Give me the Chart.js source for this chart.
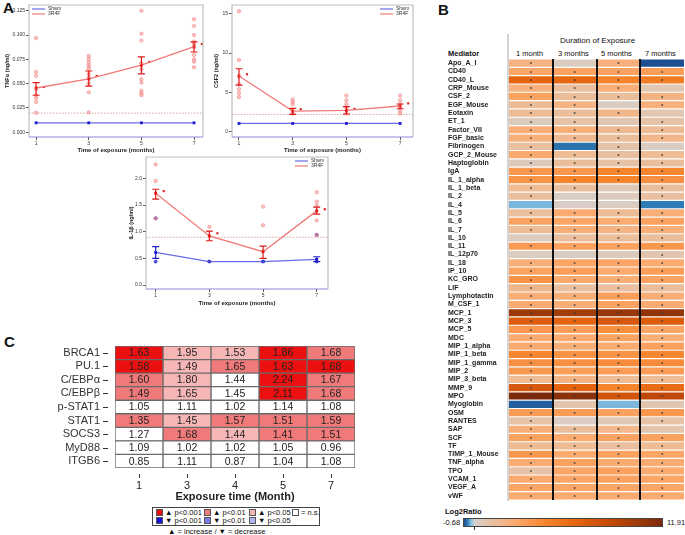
<!DOCTYPE html>
<html>
<head>
<meta charset="utf-8">
<script src="https://cdn.jsdelivr.net/npm/chart.js@4.4.0/dist/chart.umd.min.js"></script>
<style>
body { margin: 0; background: #fff; font-family: "Liberation Sans", Arial, sans-serif; }
#page { position: relative; width: 685px; height: 535px; overflow: hidden; }
.box { position: absolute; }
.big { position: absolute; font-weight: bold; font-size: 15px; color: #111; }
.t { position: absolute; white-space: nowrap; color: #111; }
.sq { position: absolute; width: 7px; height: 7px; border: 1px solid #555; box-sizing: border-box; }
</style>
</head>
<body>
<div id="page">
  <div class="big" style="left:3px;top:-1px">A</div>
  <div class="big" style="left:438px;top:1px">B</div>
  <div class="big" style="left:4px;top:333px">C</div>

  <div class="box" style="left:0;top:0;width:210px;height:158px"><canvas id="tnf"></canvas></div>
  <div class="box" style="left:210px;top:0;width:210px;height:158px"><canvas id="csf"></canvas></div>
  <div class="box" style="left:120px;top:150px;width:215px;height:160px"><canvas id="il1"></canvas></div>

  <!-- panel B header -->
  <div class="box" style="left:507px;top:34px;width:2px;height:467px;background:#d4d4d4"></div>
  <div class="t" style="left:560px;top:36px;font-size:8px">Duration of Exposure</div>
  <div class="t" style="left:448px;top:49px;font-size:7.5px;font-weight:bold">Mediator</div>
  <div class="t" style="left:516px;top:49px;font-size:7.5px">1 month</div>
  <div class="t" style="left:558px;top:49px;font-size:7.5px">3 months</div>
  <div class="t" style="left:601px;top:49px;font-size:7.5px">5 months</div>
  <div class="t" style="left:645px;top:49px;font-size:7.5px">7 months</div>
  <div class="box" style="left:448px;top:59px;width:237px;height:441px"><canvas id="heat"></canvas></div>

  <div class="t" style="left:445px;top:507px;font-size:7.5px;font-weight:bold">Log2Ratio</div>
  <div class="t" style="left:443px;top:518px;font-size:7.5px">-0.68</div>
  <div id="cbar" class="box" style="left:463px;top:518px;width:200px;height:9px;border:1px solid #444;box-sizing:border-box"></div>
  <div id="czero" class="box" style="top:527px;width:1px;height:3px;background:#333"></div>
  <div class="t" style="left:667px;top:518px;font-size:7.5px">11.91</div>

  <!-- panel C -->
  <div class="box" style="left:55px;top:340px;width:305px;height:165px"><canvas id="genes"></canvas></div>
  <div class="box" style="left:152px;top:507px;width:168px;height:19px;border:1px solid #444;box-sizing:border-box"></div>
  <div class="sq" style="left:156px;top:509px;background:#ec1010"></div>
  <div class="t" style="left:165px;top:508px;font-size:7.5px">▲ p&lt;0.001</div>
  <div class="sq" style="left:204px;top:509px;background:#f07a7a"></div>
  <div class="t" style="left:213px;top:508px;font-size:7.5px">▲ p&lt;0.01</div>
  <div class="sq" style="left:249px;top:509px;background:#f7b6b6"></div>
  <div class="t" style="left:258px;top:508px;font-size:7.5px">▲ p&lt;0.05</div>
  <div class="sq" style="left:292px;top:509px;background:#fff"></div>
  <div class="t" style="left:301px;top:508px;font-size:7.5px">= n.s.</div>
  <div class="sq" style="left:156px;top:517px;background:#1010e0"></div>
  <div class="t" style="left:165px;top:516px;font-size:7.5px">▼ p&lt;0.001</div>
  <div class="sq" style="left:204px;top:517px;background:#7a7ae8"></div>
  <div class="t" style="left:213px;top:516px;font-size:7.5px">▼ p&lt;0.01</div>
  <div class="sq" style="left:249px;top:517px;background:#b6b6f4"></div>
  <div class="t" style="left:258px;top:516px;font-size:7.5px">▼ p&lt;0.05</div>
  <div class="t" style="left:168px;top:527px;font-size:7.5px">▲ = increase / ▼ = decrease</div>
</div>

<script>
const FONT = "'Liberation Sans', Arial, sans-serif";

// ---- panel A ----
const months = [1, 3, 5, 7];

const tnfTicks = [0, 0.025, 0.05, 0.075, 0.1, 0.125];
const tnfMean = [0.0455, 0.0548, 0.069, 0.088];
const tnfLo = [0.038, 0.0475, 0.060, 0.0826];
const tnfHi = [0.051, 0.063, 0.0775, 0.093];
const tnfStar = [0.0465, 0.0579, 0.0723, 0.0909];
const tnfSham = [0.0096, 0.0096, 0.0096, 0.0096];
const tnfPts = [
  [0.097, 0.062, 0.058, 0.044, 0.038, 0.035, 0.031, 0.020],
  [0.0785, 0.0754, 0.0723, 0.0695, 0.0675, 0.0648, 0.060, 0.0565, 0.0503, 0.041, 0.0204],
  [0.125, 0.1015, 0.0943, 0.071, 0.0648, 0.0545, 0.051, 0.0427, 0.040, 0.038],
  [0.1164, 0.1095, 0.100, 0.0933, 0.091, 0.0875, 0.0795, 0.075, 0.0726, 0.0668]
];
const tnfCut = 0.0196;

const csfTicks = [0, 5, 10, 15];
const csfMean = [7.08, 2.63, 2.7, 3.27];
const csfLo = [5.93, 2.2, 2.25, 2.92];
const csfHi = [8.0, 2.97, 3.18, 3.52];
const csfStar = [7.3, 2.85, 2.9, 3.6];
const csfSham = [1.05, 1.05, 1.05, 1.05];
const csfPts = [
  [15.3, 9.1, 7.0, 6.0, 5.4, 4.9, 4.4],
  [4.1, 3.8, 3.5, 2.5, 2.3],
  [4.6, 4.0, 3.5, 3.0, 2.3],
  [4.6, 4.0, 3.5, 3.1, 2.65, 2.3]
];
const csfCut = 2.2;

const ilTicks = [0, 0.5, 1.0, 1.5, 2.0];
const ilMean = [1.72, 0.92, 0.625, 1.39];
const ilLo = [1.61, 0.83, 0.5, 1.33];
const ilHi = [1.795, 1.01, 0.73, 1.46];
const ilStar = [1.76, 0.97, null, 1.42];
const ilSham = [0.61, 0.44, 0.44, 0.48];
const ilShamLo = [0.5, 0.44, 0.44, 0.44];
const ilShamHi = [0.72, 0.44, 0.44, 0.53];
const ilPts = [[2.26, 1.95, 1.25], [1.09], [1.47, 1.12], [1.74, 1.56, 1.49, 1.21, 0.94]];
const ilShamPts = [[1.25, 0.44], [0.44], [0.44], [0.94, 0.44]];
const ilCut = 0.895;

// ---- panel B ----
const mediators = ['Apo_A_I','CD40','CD40_L','CRP_Mouse','CSF_2','EGF_Mouse','Eotaxin','ET_1','Factor_VII',
  'FGF_basic','Fibrinogen','GCP_2_Mouse','Haptoglobin','IgA','IL_1_alpha','IL_1_beta','IL_2','IL_4','IL_5',
  'IL_6','IL_7','IL_10','IL_11','IL_12p70','IL_18','IP_10','KC_GRO','LIF','Lymphotactin','M_CSF_1','MCP_1',
  'MCP_3','MCP_5','MDC','MIP_1_alpha','MIP_1_beta','MIP_1_gamma','MIP_2','MIP_3_beta','MMP_9','MPO',
  'Myoglobin','OSM','RANTES','SAP','SCF','TF','TIMP_1_Mouse','TNF_alpha','TPO','VCAM_1','VEGF_A','vWF'];
const durations = ['1 month', '3 months', '5 months', '7 months'];
const ratio1 = [2.0,2.8,6.5,2.2,3.0,1.4,1.5,0.4,2.4,2.2,1.2,2.6,0.4,3.5,3.8,1.5,1.3,-0.25,1.3,3.0,1.5,0.4,3.4,0.3,2.3,3.0,3.8,1.8,2.3,2.5,10.5,7.0,3.5,2.5,2.5,4.5,4.0,3.5,1.5,7.5,11.91,-0.6,3.3,1.0,2.3,3.0,1.5,3.5,2.5,1.0,2.5,2.8,2.5];
const ratio3 = [0.3,3.0,6.3,1.2,1.4,2.0,1.3,1.0,2.3,1.6,-0.5,1.5,1.3,3.5,4.6,1.2,0.2,0.2,2.5,2.8,2.3,1.2,3.0,0.3,2.8,3.2,2.6,1.2,2.3,2.3,10.2,6.5,3.3,2.5,2.3,3.8,4.0,3.2,2.0,6.5,11.3,0.8,3.3,0.2,1.3,2.5,1.5,2.5,3.0,2.8,2.8,2.8,2.5];
const ratio5 = [2.2,3.0,4.6,2.4,1.3,0.3,1.8,0.7,1.6,1.3,1.0,1.2,1.0,4.6,4.6,0.5,0.4,0.3,1.5,2.5,2.0,1.3,3.0,0.4,2.8,2.5,2.4,1.2,3.2,3.0,10.8,7.5,4.0,3.0,2.5,3.8,4.2,3.3,1.5,4.6,7.8,-0.25,3.0,0.6,1.8,3.0,1.2,3.0,2.5,3.0,3.0,2.8,2.5];
const ratio7 = [-0.68,3.2,5.0,0.6,2.0,2.2,0.7,1.0,1.5,1.8,0.3,1.5,1.3,4.5,4.0,1.3,1.2,-0.45,2.3,3.0,2.3,1.3,3.6,0.8,2.5,3.2,3.0,1.3,2.3,2.5,11.0,7.0,2.8,2.3,3.0,4.5,4.2,3.3,1.5,6.0,8.8,0.7,3.5,1.0,0.8,3.0,1.5,2.8,2.5,2.5,2.8,2.8,2.5];
const star1 = [1,1,1,1,1,1,1,1,1,1,1,1,1,1,1,1,1,0,1,1,1,0,1,0,1,1,1,1,1,1,1,1,1,1,1,1,1,1,1,1,1,0,1,1,1,1,1,1,1,1,1,1,1];
const star3 = [0,1,1,1,1,1,1,1,1,1,0,1,1,1,1,1,0,0,1,1,1,1,1,0,1,1,1,1,1,1,1,1,1,1,1,1,1,1,1,1,1,0,1,0,1,1,1,1,1,1,1,1,1];
const star5 = [1,1,1,1,1,0,1,0,1,1,1,1,1,1,1,0,0,0,1,1,1,1,1,0,1,1,1,1,1,1,1,1,1,1,1,1,1,1,1,1,1,0,1,0,1,1,1,1,1,1,1,1,1];
const star7 = [0,1,1,0,1,1,0,1,1,1,0,1,1,1,1,1,1,0,1,1,1,1,1,1,1,1,1,1,1,1,1,1,1,1,1,1,1,1,1,1,1,0,1,1,0,1,1,1,1,1,1,1,1];
const ratioMin = -0.68, ratioMax = 11.91;
const ratioStops = [
  [-0.68, '#1d4e8f'], [-0.45, '#2f7db8'], [-0.2, '#8ec6e6'], [0, '#d5d0cd'], [0.8, '#e3c5ad'],
  [1.5, '#edbb94'], [2.5, '#fbab70'], [3.5, '#fb9850'], [4.6, '#f5842c'], [6.5, '#e4640f'],
  [8.5, '#c54b08'], [10.5, '#9c3a07'], [11.91, '#7b2a0b']
];

// ---- panel C ----
const genes = ['BRCA1', 'PU.1', 'C/EBPα', 'C/EBPβ', 'p-STAT1', 'STAT1', 'SOCS3', 'MyD88', 'ITGB6'];
const expMonths = ['1', '3', '4', '5', '7'];
const fold1 = [1.63, 1.58, 1.60, 1.49, 1.05, 1.35, 1.27, 1.09, 0.85];
const fold3 = [1.95, 1.49, 1.80, 1.65, 1.11, 1.45, 1.68, 1.02, 1.11];
const fold4 = [1.53, 1.65, 1.44, 1.45, 1.02, 1.57, 1.44, 1.02, 0.87];
const fold5 = [1.86, 1.63, 2.24, 2.11, 1.14, 1.51, 1.41, 1.05, 1.04];
const fold7 = [1.68, 1.68, 1.67, 1.68, 1.08, 1.59, 1.51, 0.96, 1.08];
const sig1 = [3, 3, 2, 2, 0, 2, 0, 0, 0];
const sig3 = [1, 1, 1, 1, 0, 1, 2, 0, 0];
const sig4 = [1, 2, 0, 0, 0, 2, 1, 0, 0];
const sig5 = [3, 3, 3, 3, 0, 2, 2, 0, 0];
const sig7 = [2, 3, 2, 2, 0, 2, 2, 0, 0];
const sigColors = ['#ffffff', '#f7b6b6', '#f07a7a', '#ec1010'];

function hexToRgb(h) {
  return [parseInt(h.slice(1, 3), 16), parseInt(h.slice(3, 5), 16), parseInt(h.slice(5, 7), 16)];
}

function heatColor(v) {
  for (let i = 1; i < ratioStops.length; i++) {
    const [v0, c0] = ratioStops[i - 1];
    const [v1, c1] = ratioStops[i];
    if (v <= v1) {
      const t = Math.max(0, (v - v0) / (v1 - v0));
      const a = hexToRgb(c0), b = hexToRgb(c1);
      const c = a.map((x, k) => Math.round(x + (b[k] - x) * t));
      return `rgb(${c[0]},${c[1]},${c[2]})`;
    }
  }
  return ratioStops[ratioStops.length - 1][1];
}

// ---------- panel A charts ----------
const panelAPlugin = {
  id: 'panelA',
  beforeDatasetsDraw(chart, args, opts) {
    const { ctx, chartArea: a, scales: { y } } = chart;
    const yy = y.getPixelForValue(opts.cut);
    ctx.save();
    ctx.strokeStyle = '#d08c8c';
    ctx.lineWidth = 0.8;
    ctx.setLineDash([1.5, 1.5]);
    ctx.beginPath();
    ctx.moveTo(a.left, yy);
    ctx.lineTo(a.right, yy);
    ctx.stroke();
    ctx.restore();
  },
  afterDatasetsDraw(chart, args, opts) {
    const { ctx, scales: { x, y } } = chart;
    ctx.save();
    opts.errors.forEach(e => {
      ctx.strokeStyle = e.color;
      ctx.lineWidth = 1.2;
      months.forEach((m, i) => {
        const xx = x.getPixelForValue(m);
        const y1 = y.getPixelForValue(e.lo[i]);
        const y2 = y.getPixelForValue(e.hi[i]);
        if (Math.abs(y1 - y2) < 1) return;
        ctx.beginPath();
        ctx.moveTo(xx, y1); ctx.lineTo(xx, y2);
        ctx.moveTo(xx - 3.5, y1); ctx.lineTo(xx + 3.5, y1);
        ctx.moveTo(xx - 3.5, y2); ctx.lineTo(xx + 3.5, y2);
        ctx.stroke();
      });
    });
    ctx.restore();
  },
  afterDraw(chart, args, opts) {
    const { ctx, chartArea: a } = chart;
    ctx.save();
    ctx.lineWidth = 1.2;
    ctx.strokeStyle = '#bdbdbd';
    ctx.beginPath();
    ctx.moveTo(a.left, a.bottom); ctx.lineTo(a.left, a.top);
    ctx.lineTo(a.right, a.top); ctx.lineTo(a.right, a.bottom);
    ctx.stroke();
    ctx.strokeStyle = '#8a8ae0';
    ctx.beginPath();
    ctx.moveTo(a.left, a.bottom); ctx.lineTo(a.right, a.bottom);
    ctx.stroke();
    // legend
    const lx = opts.legendRight ? a.right - 33 : a.left + 3;
    const ly = a.top + 4;
    ctx.font = '5px ' + FONT;
    ctx.textBaseline = 'middle';
    ctx.fillStyle = '#333';
    [['Sham', '#6a6ae6'], ['3R4F', '#f07a7a']].forEach(([name, col], i) => {
      ctx.strokeStyle = col;
      ctx.lineWidth = 1.2;
      ctx.beginPath();
      ctx.moveTo(lx, ly + i * 5); ctx.lineTo(lx + 13, ly + i * 5);
      ctx.stroke();
      ctx.fillText(name, lx + 16, ly + i * 5);
    });
    ctx.restore();
  }
};

function flatPts(groups) {
  const out = [];
  groups.forEach((g, i) => g.forEach(v => out.push({ x: months[i], y: v })));
  return out;
}

function makeTimeChart(id, c) {
  const datasets = [
    {
      data: flatPts(c.pts), showLine: false, pointStyle: 'circle', pointRadius: 1.7,
      backgroundColor: 'rgba(247,160,160,0.6)', borderColor: 'rgba(240,110,110,0.8)', borderWidth: 0.6
    }
  ];
  if (c.shamPts) {
    datasets.push({
      data: flatPts(c.shamPts), showLine: false, pointStyle: 'circle', pointRadius: 1.6,
      backgroundColor: '#5050dc', borderColor: '#2020c0', borderWidth: 0.5
    });
  }
  datasets.push({
    data: months.map((m, i) => ({ x: m, y: c.sham[i] })), borderColor: '#6a6ae6', borderWidth: 1.3,
    pointStyle: 'rect', pointRadius: 2, pointBackgroundColor: '#1a1ad0', pointBorderWidth: 0
  });
  datasets.push({
    data: months.map((m, i) => ({ x: m, y: c.mean[i] })), borderColor: '#f07a7a', borderWidth: 1.3,
    pointStyle: 'rect', pointRadius: 2, pointBackgroundColor: '#e01818', pointBorderWidth: 0
  });
  datasets.push({
    data: months.map((m, i) => ({ x: m + 0.3, y: c.star[i] })).filter(p => p.y !== null),
    showLine: false, pointStyle: 'rect', pointRadius: 1.5, backgroundColor: '#e01818', borderWidth: 0
  });

  const errors = [{ lo: c.lo, hi: c.hi, color: '#e01818' }];
  if (c.shamLo) errors.unshift({ lo: c.shamLo, hi: c.shamHi, color: '#2020c8' });

  new Chart(document.getElementById(id), {
    type: 'line',
    data: { datasets },
    plugins: [panelAPlugin],
    options: {
      responsive: true,
      maintainAspectRatio: false,
      animation: false,
      events: [],
      layout: { padding: c.padding },
      plugins: {
        legend: { display: false },
        tooltip: { enabled: false },
        panelA: { cut: c.cut, errors, legendRight: c.legendRight }
      },
      scales: {
        x: {
          type: 'linear', min: c.xMin, max: c.xMax,
          afterBuildTicks: s => { s.ticks = months.map(v => ({ value: v })); },
          afterFit: s => { s.height = 21; s.paddingLeft = 0; s.paddingRight = 0; },
          grid: { drawOnChartArea: false, tickLength: 3, tickColor: '#555' },
          border: { display: false },
          ticks: { color: '#333', font: { size: 5, family: FONT }, padding: 1, maxRotation: 0 },
          title: {
            display: true, text: 'Time of exposure (months)', color: '#222',
            font: { size: 6, weight: 'bold', family: FONT }, padding: { top: 0, bottom: c.xTitlePad }
          }
        },
        y: {
          min: c.yMin, max: c.yMax,
          afterBuildTicks: s => { s.ticks = c.ticks.map(v => ({ value: v })); },
          afterFit: s => { s.width = c.yWidth; s.paddingTop = 0; s.paddingBottom = 0; },
          grid: { drawOnChartArea: false, tickLength: 3, tickColor: '#555' },
          border: { display: false },
          ticks: { color: '#333', font: { size: 5, family: FONT }, padding: 1, callback: v => v.toFixed(c.dec) },
          title: {
            display: true, text: c.yTitle, color: '#222',
            font: { size: 5.5, weight: 'bold', family: FONT }, padding: { top: c.yTitlePad, bottom: 0 }
          }
        }
      }
    }
  });
}

makeTimeChart('tnf', {
  pts: tnfPts, mean: tnfMean, lo: tnfLo, hi: tnfHi, star: tnfStar, sham: tnfSham, cut: tnfCut,
  ticks: tnfTicks, dec: 3, yMin: -0.005, yMax: 0.131, xMin: 0.73, xMax: 7.34,
  padding: { top: 5, right: 7, left: 0, bottom: 0 }, yWidth: 29, yTitlePad: 4, xTitlePad: 4,
  yTitle: 'TNFα (ng/ml)', legendRight: false
});

makeTimeChart('csf', {
  pts: csfPts, mean: csfMean, lo: csfLo, hi: csfHi, star: csfStar, sham: csfSham, cut: csfCut,
  ticks: csfTicks, dec: 0, yMin: -0.67, yMax: 16.1, xMin: 0.74, xMax: 7.48,
  padding: { top: 5, right: 7, left: 0, bottom: 0 }, yWidth: 22, yTitlePad: 3, xTitlePad: 4,
  yTitle: 'CSF2 (ng/ml)', legendRight: true
});

makeTimeChart('il1', {
  pts: ilPts, shamPts: ilShamPts, mean: ilMean, lo: ilLo, hi: ilHi, star: ilStar,
  sham: ilSham, shamLo: ilShamLo, shamHi: ilShamHi, cut: ilCut,
  ticks: ilTicks, dec: 1, yMin: -0.075, yMax: 2.4, xMin: 0.64, xMax: 7.42,
  padding: { top: 7, right: 7, left: 0, bottom: 0 }, yWidth: 26, yTitlePad: 8, xTitlePad: 3,
  yTitle: 'IL-1β (ng/ml)', legendRight: true
});

// ---------- panel B heatmap ----------
const ratioCols = [ratio1, ratio3, ratio5, ratio7];
const starCols = [star1, star3, star5, star7];

const heatPlugin = {
  id: 'heatExtras',
  afterDatasetsDraw(chart) {
    const { ctx, chartArea: a, scales: { x, y } } = chart;
    ctx.save();
    ctx.fillStyle = '#3a3a3a';
    ctx.font = 'bold 6px ' + FONT;
    ctx.textAlign = 'center';
    ctx.textBaseline = 'middle';
    starCols.forEach((col, c) => {
      col.forEach((s, r) => {
        if (s) ctx.fillText('*', x.getPixelForValue(c + 0.5), y.getPixelForValue(r) + 1.5);
      });
    });
    ctx.strokeStyle = '#111';
    ctx.lineWidth = 2;
    [1, 2, 3].forEach(v => {
      const xx = Math.round(x.getPixelForValue(v));
      ctx.beginPath();
      ctx.moveTo(xx, a.top); ctx.lineTo(xx, a.bottom);
      ctx.stroke();
    });
    ctx.restore();
  }
};

new Chart(document.getElementById('heat'), {
  type: 'bar',
  data: {
    labels: mediators,
    datasets: ratioCols.map((vals, c) => ({
      label: durations[c],
      data: vals.map(() => [c, c + 1]),
      backgroundColor: vals.map(heatColor),
      borderWidth: 0,
      grouped: false,
      barPercentage: 1,
      categoryPercentage: 0.86
    }))
  },
  plugins: [heatPlugin],
  options: {
    indexAxis: 'y',
    responsive: true,
    maintainAspectRatio: false,
    animation: false,
    events: [],
    layout: { padding: { right: 1 } },
    plugins: { legend: { display: false }, tooltip: { enabled: false } },
    scales: {
      x: { type: 'linear', min: 0, max: 4, display: false },
      y: {
        grid: { display: false },
        border: { display: false },
        afterFit: s => { s.width = 61; s.paddingTop = 0; s.paddingBottom = 0; },
        ticks: {
          autoSkip: false, crossAlign: 'far', padding: 0, color: '#222',
          font: { size: 7, weight: 'bold', family: FONT }
        }
      }
    }
  }
});

// colour bar legend
const stopsCss = ratioStops.map(([v, c]) => `${c} ${((v - ratioMin) / (ratioMax - ratioMin) * 100).toFixed(1)}%`).join(',');
document.getElementById('cbar').style.background = `linear-gradient(to right, ${stopsCss})`;
document.getElementById('czero').style.left = (463 + (0 - ratioMin) / (ratioMax - ratioMin) * 200) + 'px';

// ---------- panel C heatmap ----------
const foldCols = [fold1, fold3, fold4, fold5, fold7];
const sigCols = [sig1, sig3, sig4, sig5, sig7];

const cellTextPlugin = {
  id: 'cellText',
  afterDatasetsDraw(chart) {
    const { ctx, chartArea: a, scales: { x, y } } = chart;
    ctx.save();
    ctx.font = '10.5px ' + FONT;
    ctx.textAlign = 'center';
    ctx.textBaseline = 'middle';
    ctx.fillStyle = '#222';
    foldCols.forEach((col, c) => {
      col.forEach((v, r) => {
        ctx.fillText(v.toFixed(2), x.getPixelForValue(c + 0.5), y.getPixelForValue(r) + 0.5);
      });
    });
    // detached tick marks on both axes
    ctx.strokeStyle = '#333';
    ctx.lineWidth = 1;
    genes.forEach((g, r) => {
      const yy = Math.round(y.getPixelForValue(r)) + 0.5;
      ctx.beginPath();
      ctx.moveTo(a.left - 12, yy); ctx.lineTo(a.left - 7, yy);
      ctx.stroke();
    });
    expMonths.forEach((m, i) => {
      const xx = Math.round(x.getPixelForValue(i + 0.5)) + 0.5;
      ctx.beginPath();
      ctx.moveTo(xx, a.bottom + 6); ctx.lineTo(xx, a.bottom + 10);
      ctx.stroke();
    });
    ctx.restore();
  }
};

new Chart(document.getElementById('genes'), {
  type: 'bar',
  data: {
    labels: genes,
    datasets: sigCols.map((sig, c) => ({
      label: expMonths[c],
      data: sig.map(() => [c, c + 1]),
      backgroundColor: sig.map(s => sigColors[s]),
      borderColor: '#6a6a6a',
      borderWidth: 1,
      borderSkipped: false,
      grouped: false,
      barPercentage: 1,
      categoryPercentage: 1
    }))
  },
  plugins: [cellTextPlugin],
  options: {
    indexAxis: 'y',
    responsive: true,
    maintainAspectRatio: false,
    animation: false,
    events: [],
    layout: { padding: { top: 6, right: 5 } },
    plugins: { legend: { display: false }, tooltip: { enabled: false } },
    scales: {
      x: {
        type: 'linear', min: 0, max: 5,
        afterBuildTicks: s => { s.ticks = expMonths.map((m, i) => ({ value: i + 0.5 })); },
        afterFit: s => { s.height = 37; s.paddingLeft = 0; s.paddingRight = 0; },
        grid: { drawOnChartArea: false, tickLength: 10, tickColor: 'rgba(0,0,0,0)' },
        border: { display: false },
        ticks: { padding: 1, color: '#222', font: { size: 11, family: FONT }, callback: (v, i) => expMonths[i] },
        title: {
          display: true, text: 'Exposure time (Month)', color: '#222',
          font: { size: 11, weight: 'bold', family: FONT }, padding: { top: 0, bottom: 1 }
        }
      },
      y: {
        afterFit: s => { s.width = 60; s.paddingTop = 0; s.paddingBottom = 0; },
        grid: { drawOnChartArea: false, tickLength: 12, tickColor: 'rgba(0,0,0,0)' },
        border: { display: false },
        ticks: { autoSkip: false, padding: 3, color: '#333', font: { size: 11, family: FONT } }
      }
    }
  }
});
</script>
</body>
</html>
